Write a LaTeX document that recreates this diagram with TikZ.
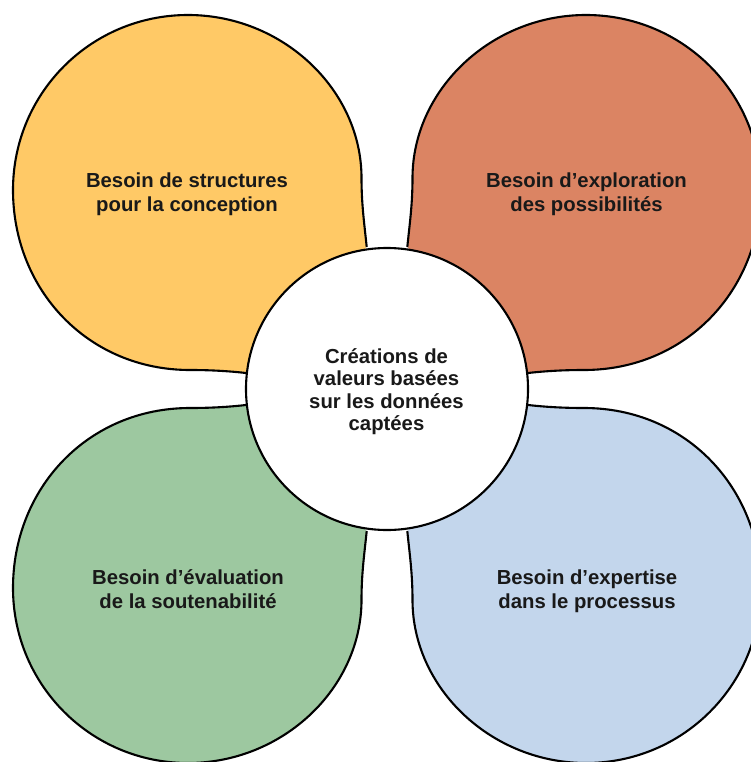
\documentclass[tikz,border=0pt]{standalone}
\usepackage{fontspec}
\setmainfont{Liberation Sans}
\definecolor{cyellow}{HTML}{FFC966}
\definecolor{cred}{HTML}{DB8463}
\definecolor{cgreen}{HTML}{9DC8A0}
\definecolor{cblue}{HTML}{C3D6EC}
\tikzset{x=1pt,y=-1pt,
 petal/.style={draw=black,line width=2.1pt},
 lab/.style={align=center,font=\fontsize{20.3}{24.3}\selectfont\bfseries,text=black!90,inner sep=0pt},
 hublab/.style={lab,font=\fontsize{20.3}{22.4}\selectfont\bfseries}}
\newcommand{\petalpath}{(366.7,247) .. controls (364.5,225) and (361.5,205) .. (361.5,178)
 .. controls (361.5,90) and (283,15) .. (188,15)
 .. controls (91,15) and (13,93) .. (13,190)
 .. controls (13,290) and (88,370) .. (190,370)
 .. controls (210,370) and (228,371) .. (246,373)}
\begin{document}
\begin{tikzpicture}
\useasboundingbox (0,0) rectangle (751,762);
\fill[white] (0,0) rectangle (751,762);
\begin{scope}
\clip (0,0) rectangle (751,762);
\filldraw[petal,fill=cyellow] \petalpath;
\begin{scope}[xshift=774pt,xscale=-1]
\filldraw[petal,fill=cred] \petalpath;
\end{scope}
\begin{scope}[yshift=-778pt,yscale=-1]
\filldraw[petal,fill=cgreen] \petalpath;
\end{scope}
\begin{scope}[xshift=774pt,xscale=-1,yshift=-778pt,yscale=-1]
\filldraw[petal,fill=cblue] \petalpath;
\end{scope}
\end{scope}
\node[petal,circle,fill=white,minimum size=282pt,inner sep=0pt] (hub) at (387,389) {};
\node[hublab] (t0) at (386.5,391.5) {Créations de\\valeurs basées\\sur les données\\captées};
\node[lab] (t1) at (187,194) {Besoin de structures\\pour la conception};
\node[lab] (t2) at (586.5,194) {Besoin d’exploration\\des possibilités};
\node[lab] (t3) at (188,589) {Besoin d’évaluation\\de la soutenabilité};
\node[lab] (t4) at (587,591) {Besoin d’expertise\\dans le processus};
\end{tikzpicture}
\end{document}
